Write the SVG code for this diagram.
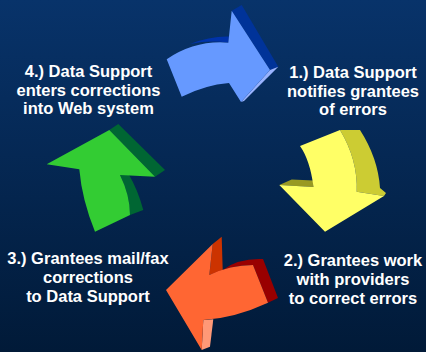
<svg xmlns="http://www.w3.org/2000/svg" width="426" height="352" viewBox="0 0 426 352">
<defs>
<linearGradient id="bg" x1="0" y1="0" x2="0" y2="1">
<stop offset="0" stop-color="#08336a"/>
<stop offset="1" stop-color="#011a38"/>
</linearGradient>
</defs>
<style>
.t{font-family:"Liberation Sans",Arial,sans-serif;font-weight:bold;font-size:16.5px;fill:#ffffff;text-anchor:middle}
</style>
<rect width="426" height="352" fill="url(#bg)"/>
<g id="arrow-blue">
<path d="M190,44 Q210,36 229,36.5 L228.3,42.7 Q210,40 190,44 Z" fill="#0033aa"/>
<path d="M231.7,10.7 L241.7,5 L278.3,66.7 L270,70 Z" fill="#003399"/>
<path d="M270,70 L278.3,66.7 L244,101 L241,102 Z" fill="#99b3ff"/>
<path d="M166.7,59.3 Q195,40 228.3,42.7 L231.7,10.7 L270,70 L241,102 L229,83 Q205,85 181.7,96.7 Z" fill="#6699ff"/>
</g>
<g id="arrow-yellow">
<path d="M340,130 L360,130 Q378,158 380,188 L386,193 L384,196 L356.7,191.7 Q358,160 340,130 Z" fill="#cccc33"/>
<path d="M279.3,185 L291.7,179.5 L313.5,180.5 L313.5,187 Z" fill="#999922"/>
<path d="M300,146 L340,130 Q358,160 356.7,191.7 L384,196 L325,231.7 L279.3,185 L313.5,187 Q310,160 300,146 Z" fill="#ffff66"/>
</g>
<g id="arrow-red">
<path d="M212.7,244 L221.7,236.7 L222.7,270 L209.3,275 Z" fill="#cc3300"/>
<path d="M209.3,275 L222.7,270 Q238,258 263,259 L278,298 L268,302.7 L253,265 Q230,265 209.3,275 Z" fill="#990000"/>
<path d="M203.3,320 L213.3,319.3 L210,346.7 L201.7,350 Z" fill="#ff9977"/>
<path d="M166,290 L212.7,244 L209.3,275 Q230,265 253,265 L268,302.7 Q235,318 203.3,320 L201.7,350 Z" fill="#ff6633"/>
</g>
<g id="arrow-green">
<path d="M109.3,130 L118.3,124 L165,170 L155,176.7 Z" fill="#006633"/>
<path d="M120,175 L128,173 Q138,190 143.3,210 L130,215 Q130,195 120,175 Z" fill="#006633"/>
<path d="M46.7,164.3 L109.3,130 L155,176.7 L120,175 Q130,195 130,215 L95,231.7 Q82,200 79.3,169.3 Z" fill="#33cc33"/>
</g>
<g id="label-1">
<text class="t" x="353" y="78">1.) Data Support</text>
<text class="t" x="353" y="97">notifies grantees</text>
<text class="t" x="353" y="115">of errors</text>
</g>
<g id="label-2">
<text class="t" x="353" y="266">2.) Grantees work</text>
<text class="t" x="353" y="285">with providers</text>
<text class="t" x="353" y="304">to correct errors</text>
</g>
<g id="label-3">
<text class="t" x="88" y="264">3.) Grantees mail/fax</text>
<text class="t" x="88" y="283">corrections</text>
<text class="t" x="88" y="302">to Data Support</text>
</g>
<g id="label-4">
<text class="t" x="88.5" y="77">4.) Data Support</text>
<text class="t" x="88.5" y="96">enters corrections</text>
<text class="t" x="88.5" y="114">into Web system</text>
</g>
</svg>
